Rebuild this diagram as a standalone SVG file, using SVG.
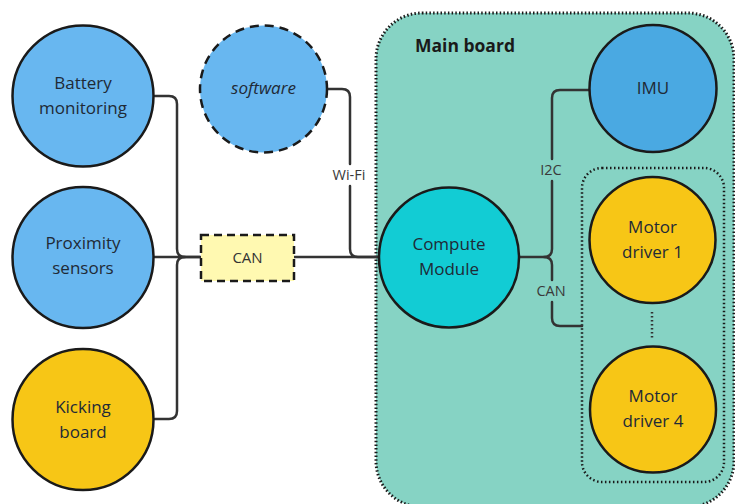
<svg xmlns="http://www.w3.org/2000/svg" width="735" height="504" viewBox="0 0 735 504">
<defs>
<style>
.node{stroke:#1a1a1a;stroke-width:2.5}
.lbl{font-family:"Open Sans","Noto Sans",sans-serif;font-size:17px;fill:#1f2a36;text-anchor:middle}
.edge{fill:none;stroke:#333333;stroke-width:2.5;stroke-linecap:round;stroke-linejoin:round}
.elbl{font-family:"Open Sans","Noto Sans",sans-serif;font-size:14.5px;fill:#3a3a3a;text-anchor:middle}
.blue{fill:#68b7f0}
.yellow{fill:#f7c616}
</style>
</defs>
<rect width="735" height="504" fill="#ffffff"/>

<g id="main-board">
<rect x="376" y="13" width="358" height="494" rx="46" fill="#86d3c4" stroke="#1a1a1a" stroke-width="3" stroke-dasharray="1.5 2.2"/>
<text x="415" y="52" font-family="'Open Sans','Noto Sans',sans-serif" font-size="17.5" font-weight="bold" fill="#1a1a1a">Main board</text>
</g>

<g id="motor-group">
<rect x="582" y="168" width="142" height="314" rx="20" fill="none" stroke="#1a1a1a" stroke-width="2.5" stroke-dasharray="1.5 2.5"/>
<line x1="652" y1="312" x2="652" y2="339" stroke="#333" stroke-width="2.5" stroke-dasharray="1.5 2.5"/>
</g>

<g id="connectors">
<path class="edge" d="M155 96 H169 Q177 96 177 104 V249 Q177 257 185 257 H200"/>
<path class="edge" d="M155 257 H200"/>
<path class="edge" d="M155 419 H169 Q177 419 177 411 V265 Q177 257 185 257"/>
<path class="edge" d="M294 257 H379"/>
<path class="edge" d="M328 89 H342 Q350 89 350 97 V164 M350 186 V249 Q350 257 358 257 H379"/>
<text class="elbl" x="349" y="180">Wi-Fi</text>
<path class="edge" d="M519 257 H544 Q552 257 552 249 V181 M552 159 V98 Q552 90 560 90 H589"/>
<path class="edge" d="M544 257 Q552 257 552 265 V280 M552 302 V318 Q552 326 560 326 H582"/>
<text class="elbl" x="551" y="175">I2C</text>
<text class="elbl" x="551" y="296">CAN</text>
</g>

<g id="battery">
<circle class="node blue" cx="83" cy="96" r="70.5"/>
<text class="lbl" x="83" y="89">Battery</text>
<text class="lbl" x="83" y="114">monitoring</text>
</g>

<g id="software">
<circle cx="263.5" cy="89" r="63.5" class="blue" stroke="#1a1a1a" stroke-width="2.5" stroke-dasharray="9 6"/>
<text class="lbl" x="263.5" y="94" font-style="italic">software</text>
</g>

<g id="proximity">
<circle class="node blue" cx="83" cy="257.5" r="70.5"/>
<text class="lbl" x="83" y="249">Proximity</text>
<text class="lbl" x="83" y="274">sensors</text>
</g>

<g id="kicking">
<circle class="node yellow" cx="83" cy="419.5" r="70.5"/>
<text class="lbl" x="83" y="413">Kicking</text>
<text class="lbl" x="83" y="438">board</text>
</g>

<g id="can-bus">
<rect x="201" y="235" width="93" height="46" fill="#fff9b1" stroke="#1a1a1a" stroke-width="2.5" stroke-dasharray="8 5"/>
<text x="247.5" y="263" font-family="'Open Sans','Noto Sans',sans-serif" font-size="15" fill="#333" text-anchor="middle">CAN</text>
</g>

<g id="imu">
<circle cx="653" cy="88.5" r="63.5" fill="#4aa9e2" class="node"/>
<text class="lbl" x="653" y="94">IMU</text>
</g>

<g id="compute">
<circle cx="449" cy="257.5" r="70" fill="#12ccd4" class="node"/>
<text class="lbl" x="449" y="250">Compute</text>
<text class="lbl" x="449" y="275">Module</text>
</g>

<g id="motor1">
<circle class="node yellow" cx="652.5" cy="240" r="63"/>
<text class="lbl" x="652.5" y="233">Motor</text>
<text class="lbl" x="652.5" y="258">driver 1</text>
</g>

<g id="motor4">
<circle class="node yellow" cx="653" cy="409.5" r="63"/>
<text class="lbl" x="653" y="402">Motor</text>
<text class="lbl" x="653" y="427">driver 4</text>
</g>
</svg>
